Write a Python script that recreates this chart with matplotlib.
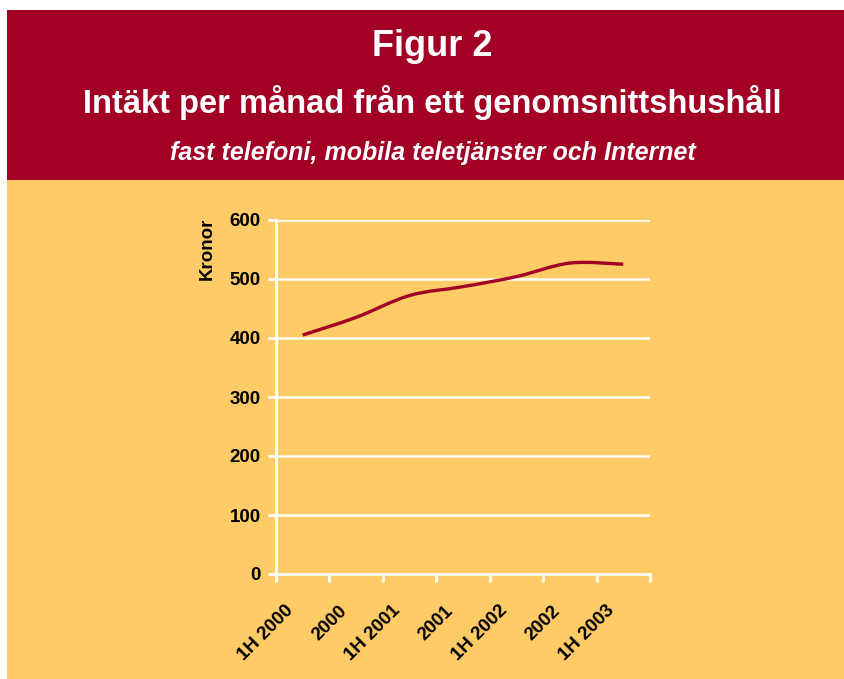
import matplotlib
matplotlib.use("Agg")
from matplotlib import pyplot as plt
from matplotlib.patches import Rectangle, PathPatch
from matplotlib.path import Path
from matplotlib.transforms import ScaledTranslation
import numpy as np

# Data (kronor per month)
categories = ['1H 2000', '2000', '1H 2001', '2001', '1H 2002', '2002', '1H 2003']
kronor = [405, 435, 472, 487, 504, 527, 525]
y_ticks = [0, 100, 200, 300, 400, 500, 600]

red = '#A30026'
yellow = '#FFCB66'
font = 'Liberation Sans'

fig = plt.figure(figsize=(8.45, 6.79), dpi=100)
fig.patch.set_facecolor('white')

W, H = 845, 679
# banner and background
fig.add_artist(Rectangle((7 / W, 0), 1, 1 - 180 / H, transform=fig.transFigure,
                         facecolor=yellow, edgecolor='none', zorder=0))
fig.add_artist(Rectangle((7 / W, 1 - 180 / H), 1, (180 - 10) / H, transform=fig.transFigure,
                         facecolor=red, edgecolor='none', zorder=0))

fig.text(0.512, 1 - 47 / H, 'Figur 2', color='white', fontsize=26, fontweight='bold',
         family=font, ha='center', va='center')
fig.text(0.512, 1 - 102 / H, 'Intäkt per månad från ett genomsnittshushåll', color='white',
         fontsize=23.5, fontweight='bold', family=font, ha='center', va='center')
fig.text(0.512, 1 - 153 / H, 'fast telefoni, mobila teletjänster och Internet', color='white',
         fontsize=18, fontweight='bold', style='italic', family=font, ha='center', va='center')

ax = fig.add_axes([276 / W, 1 - 574 / H, (650 - 276) / W, (574 - 220) / H])
ax.patch.set_alpha(0)

x = np.arange(len(categories))

# smoothed line (Catmull-Rom style Bezier segments)
pts = np.column_stack([x, kronor]).astype(float)
verts = [tuple(pts[0])]
codes = [Path.MOVETO]
for i in range(len(pts) - 1):
    p0 = pts[i - 1] if i > 0 else pts[i]
    p1 = pts[i]
    p2 = pts[i + 1]
    p3 = pts[i + 2] if i + 2 < len(pts) else pts[i + 1]
    c1 = p1 + (p2 - p0) / 6
    c2 = p2 - (p3 - p1) / 6
    verts += [tuple(c1), tuple(c2), tuple(p2)]
    codes += [Path.CURVE4] * 3
ax.add_patch(PathPatch(Path(verts, codes), facecolor='none', edgecolor=red, lw=2.4, zorder=3))

ax.set_xlim(-0.5, len(categories) - 0.5)
ax.set_ylim(0, 600)
ax.set_yticks(y_ticks)
ax.set_yticklabels([str(v) for v in y_ticks], fontsize=13.5, fontweight='bold', family=font)
ax.grid(axis='y', color='white', lw=1.8)
ax.set_axisbelow(True)

# tick marks sit between categories, labels are placed under each category
ax.set_xticks(np.arange(len(categories) + 1) - 0.5)
ax.set_xticklabels([])
label_tr = ax.get_xaxis_transform() + ScaledTranslation(-0.18, -0.28, fig.dpi_scale_trans)
for xi, cat in zip(x, categories):
    ax.text(xi, 0, cat, transform=label_tr, rotation=45, ha='right', va='top',
            rotation_mode='anchor', fontsize=13.5, fontweight='bold', family=font)
ax.tick_params(axis='x', length=6, width=2, color='white', direction='out')
ax.tick_params(axis='y', length=6, width=2, color='white', pad=5)

for s in ['top', 'right']:
    ax.spines[s].set_visible(False)
for s in ['left', 'bottom']:
    ax.spines[s].set_color('white')
    ax.spines[s].set_linewidth(2)

ax.text(-0.183, 0.918, 'Kronor', transform=ax.transAxes, rotation=90, ha='center', va='center',
        fontsize=13.5, fontweight='bold', family=font)

fig.savefig('out.png', dpi=100, facecolor=fig.get_facecolor())
